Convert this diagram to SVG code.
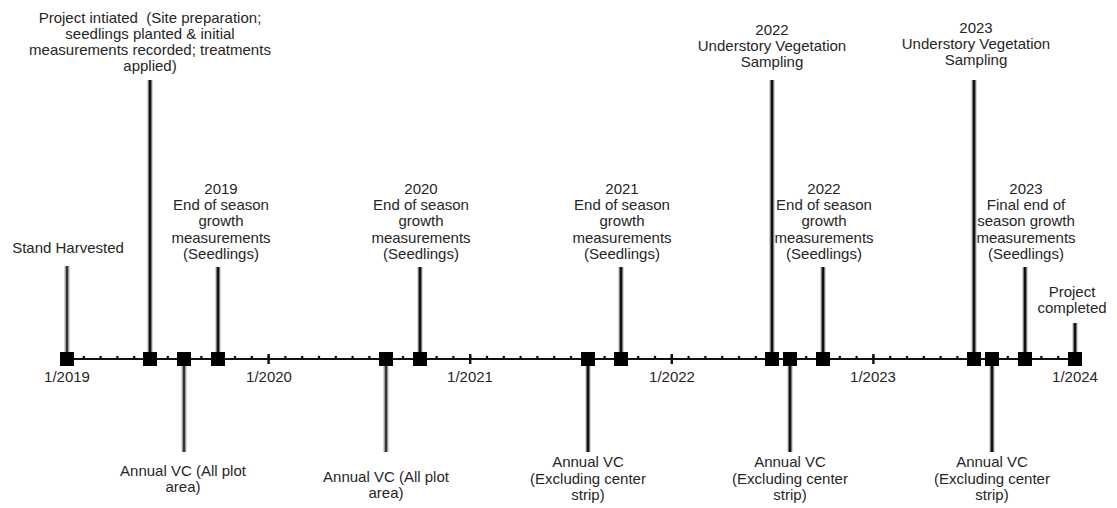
<svg xmlns="http://www.w3.org/2000/svg" width="1117" height="508" viewBox="0 0 1117 508">
<style>
text{font-family:"Liberation Sans",Arial,sans-serif;font-size:15px;fill:#262626;text-anchor:middle}
.halo{stroke:#a8a8a8;stroke-width:5;fill:none}
.core{stroke:#111;stroke-width:2.6;fill:none}
.light{stroke:#333;stroke-width:2.2;fill:none}
.sq{fill:#000}
.axis{stroke:#111;stroke-width:2.2}
.dots{stroke:#111;stroke-width:2.6;stroke-linecap:round;stroke-dasharray:0 16.8;fill:none}
.yt{stroke:#111;stroke-width:2.4}
</style>
<rect width="1117" height="508" fill="#fff"/>
<g id="connectors">
  <line class="axis" x1="60" y1="359" x2="1082" y2="359"/>
  <path class="dots" d="M67 357 H1076"/>
  <g>
    <line class="yt" x1="268.6" y1="354" x2="268.6" y2="364"/>
    <line class="yt" x1="470.2" y1="354" x2="470.2" y2="364"/>
    <line class="yt" x1="671.8" y1="354" x2="671.8" y2="364"/>
    <line class="yt" x1="873.4" y1="354" x2="873.4" y2="364"/>
  </g>
  <!-- upward stems -->
  <line class="halo" x1="67" y1="266" x2="67" y2="352"/><line class="light" x1="67" y1="266" x2="67" y2="352"/>
  <line class="halo" x1="150" y1="80" x2="150" y2="352"/><line class="core" x1="150" y1="80" x2="150" y2="352"/>
  <line class="halo" x1="218" y1="267" x2="218" y2="352"/><line class="core" x1="218" y1="267" x2="218" y2="352"/>
  <line class="halo" x1="420" y1="267" x2="420" y2="352"/><line class="core" x1="420" y1="267" x2="420" y2="352"/>
  <line class="halo" x1="621" y1="267" x2="621" y2="352"/><line class="core" x1="621" y1="267" x2="621" y2="352"/>
  <line class="halo" x1="772" y1="80" x2="772" y2="352"/><line class="core" x1="772" y1="80" x2="772" y2="352"/>
  <line class="halo" x1="823" y1="267" x2="823" y2="352"/><line class="core" x1="823" y1="267" x2="823" y2="352"/>
  <line class="halo" x1="974" y1="80" x2="974" y2="352"/><line class="core" x1="974" y1="80" x2="974" y2="352"/>
  <line class="halo" x1="1025" y1="267" x2="1025" y2="352"/><line class="core" x1="1025" y1="267" x2="1025" y2="352"/>
  <line class="halo" x1="1075" y1="323" x2="1075" y2="352"/><line class="core" x1="1075" y1="323" x2="1075" y2="352"/>
  <!-- downward stems -->
  <line class="halo" x1="184" y1="366" x2="184" y2="452"/><line class="light" x1="184" y1="366" x2="184" y2="452"/>
  <line class="halo" x1="386" y1="366" x2="386" y2="452"/><line class="light" x1="386" y1="366" x2="386" y2="452"/>
  <line class="halo" x1="588" y1="366" x2="588" y2="452"/><line class="core" x1="588" y1="366" x2="588" y2="452"/>
  <line class="halo" x1="790" y1="366" x2="790" y2="452"/><line class="core" x1="790" y1="366" x2="790" y2="452"/>
  <line class="halo" x1="992" y1="366" x2="992" y2="452"/><line class="core" x1="992" y1="366" x2="992" y2="452"/>
</g>
<g id="year-labels">
  <text x="67" y="382">1/2019</text>
  <text x="269" y="382">1/2020</text>
  <text x="470" y="382">1/2021</text>
  <text x="672" y="382">1/2022</text>
  <text x="873" y="382">1/2023</text>
  <text x="1075" y="382">1/2024</text>
</g>
<g id="stand-harvested"><rect class="sq" x="60" y="352" width="14" height="14"/><text x="68" y="253">Stand Harvested</text></g>
<g id="project-initiated"><rect class="sq" x="143" y="352" width="14" height="14"/>
  <text x="150" y="23" xml:space="preserve">Project intiated  (Site preparation;</text>
  <text x="150" y="39">seedlings planted &amp; initial</text>
  <text x="150" y="55">measurements recorded; treatments</text>
  <text x="150" y="71">applied)</text></g>
<g id="vc-2019"><rect class="sq" x="177" y="352" width="14" height="14"/>
  <text x="183" y="476">Annual VC (All plot</text><text x="183" y="492">area)</text></g>
<g id="growth-2019"><rect class="sq" x="211" y="352" width="14" height="14"/>
  <text x="221" y="194">2019</text><text x="221" y="210">End of season</text><text x="221" y="226">growth</text><text x="221" y="243">measurements</text><text x="221" y="259">(Seedlings)</text></g>
<g id="vc-2020"><rect class="sq" x="379" y="352" width="14" height="14"/>
  <text x="386" y="482">Annual VC (All plot</text><text x="386" y="498">area)</text></g>
<g id="growth-2020"><rect class="sq" x="413" y="352" width="14" height="14"/>
  <text x="421" y="194">2020</text><text x="421" y="210">End of season</text><text x="421" y="226">growth</text><text x="421" y="243">measurements</text><text x="421" y="259">(Seedlings)</text></g>
<g id="vc-2021"><rect class="sq" x="581" y="352" width="14" height="14"/>
  <text x="588" y="467">Annual VC</text><text x="588" y="484">(Excluding center</text><text x="588" y="500">strip)</text></g>
<g id="growth-2021"><rect class="sq" x="614" y="352" width="14" height="14"/>
  <text x="622" y="194">2021</text><text x="622" y="210">End of season</text><text x="622" y="226">growth</text><text x="622" y="243">measurements</text><text x="622" y="259">(Seedlings)</text></g>
<g id="understory-2022"><rect class="sq" x="765" y="352" width="14" height="14"/>
  <text x="772" y="35">2022</text><text x="772" y="51">Understory Vegetation</text><text x="772" y="67">Sampling</text></g>
<g id="vc-2022"><rect class="sq" x="783" y="352" width="14" height="14"/>
  <text x="790" y="467">Annual VC</text><text x="790" y="484">(Excluding center</text><text x="790" y="500">strip)</text></g>
<g id="growth-2022"><rect class="sq" x="816" y="352" width="14" height="14"/>
  <text x="824" y="194">2022</text><text x="824" y="210">End of season</text><text x="824" y="226">growth</text><text x="824" y="243">measurements</text><text x="824" y="259">(Seedlings)</text></g>
<g id="understory-2023"><rect class="sq" x="967" y="352" width="14" height="14"/>
  <text x="976" y="33">2023</text><text x="976" y="49">Understory Vegetation</text><text x="976" y="65">Sampling</text></g>
<g id="vc-2023"><rect class="sq" x="985" y="352" width="14" height="14"/>
  <text x="992" y="467">Annual VC</text><text x="992" y="484">(Excluding center</text><text x="992" y="500">strip)</text></g>
<g id="growth-2023"><rect class="sq" x="1018" y="352" width="14" height="14"/>
  <text x="1026" y="194">2023</text><text x="1026" y="210">Final end of</text><text x="1026" y="226">season growth</text><text x="1026" y="243">measurements</text><text x="1026" y="259">(Seedlings)</text></g>
<g id="project-completed"><rect class="sq" x="1068" y="352" width="14" height="14"/>
  <text x="1072" y="297">Project</text><text x="1072" y="313">completed</text></g>
</svg>
